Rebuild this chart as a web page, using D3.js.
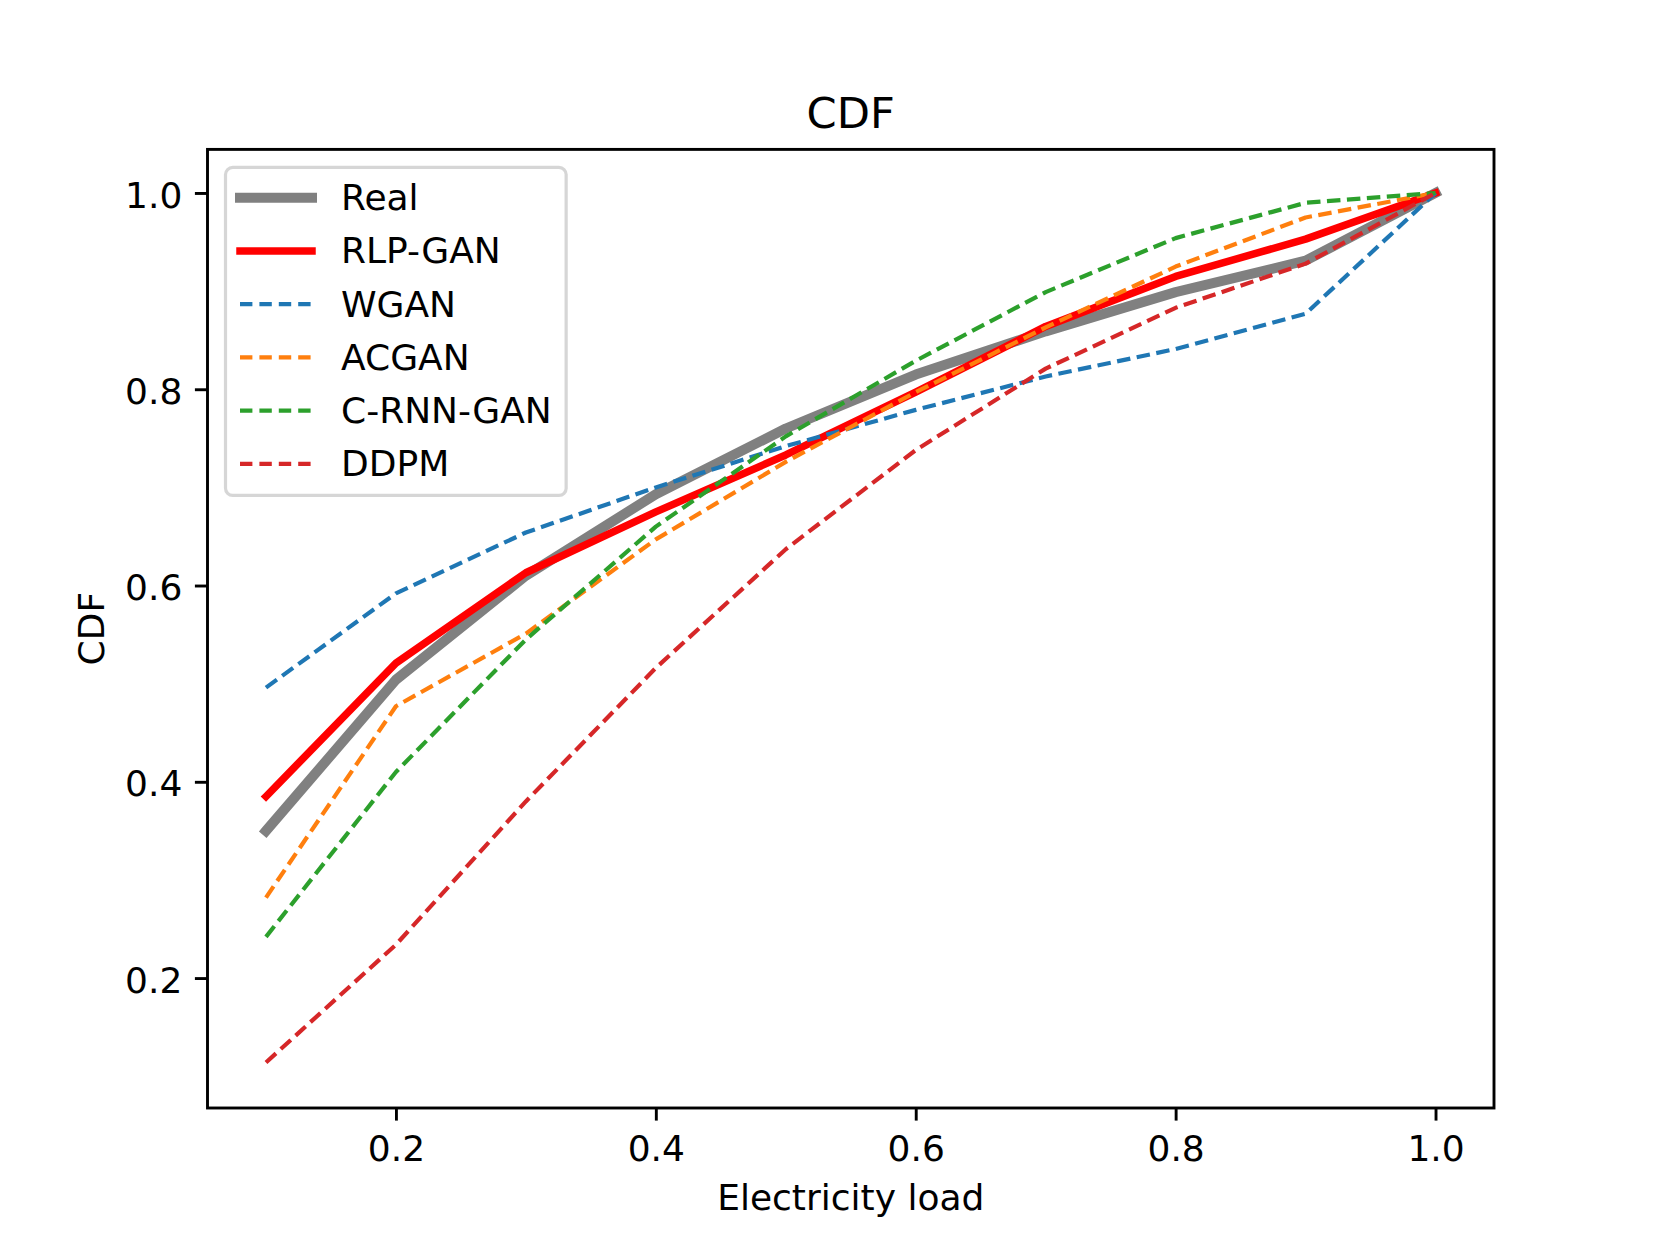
<!DOCTYPE html>
<html>
	<head>
		<title>CDF</title>
		<style>
			body {
				margin: 0;
				background: white;
			}
			svg text {
				font-family: "DejaVu Sans", sans-serif;
				fill: black;
			}
			.axis path {
				display: none;
			}
			.axis line {
				stroke: black;
				stroke-width: 2.9;
			}
			.axis text {
				font-size: 36px;
			}
		</style>
		<script src="https://d3js.org/d3.v7.min.js"></script>
	</head>

	<body>
		<svg id=chart width=1660 height=1245></svg>
	</body>

	<script>
		// values
		const loads = [0.1, 0.2, 0.3, 0.4, 0.5, 0.6, 0.7, 0.8, 0.9, 1.0];
		const real = [0.350, 0.504, 0.610, 0.693, 0.760, 0.815, 0.859, 0.899, 0.931, 1.0];
		const rlpGan = [0.385, 0.521, 0.613, 0.675, 0.733, 0.797, 0.864, 0.915, 0.953, 1.0];
		const wgan = [0.496, 0.592, 0.654, 0.700, 0.742, 0.779, 0.813, 0.841, 0.877, 1.0];
		const acgan = [0.282, 0.477, 0.551, 0.647, 0.726, 0.797, 0.863, 0.925, 0.975, 1.0];
		const crnnGan = [0.242, 0.410, 0.545, 0.660, 0.752, 0.829, 0.899, 0.954, 0.990, 1.0];
		const ddpm = [0.114, 0.234, 0.380, 0.516, 0.637, 0.738, 0.821, 0.883, 0.928, 1.0];

		const xTicks = [0.2, 0.4, 0.6, 0.8, 1.0];
		const yTicks = [0.2, 0.4, 0.6, 0.8, 1.0];

		const seriesNames = ['Real', 'RLP-GAN', 'WGAN', 'ACGAN', 'C-RNN-GAN', 'DDPM'];
		const seriesValues = [real, rlpGan, wgan, acgan, crnnGan, ddpm];
		const seriesColors = ['#808080', '#ff0000', '#1f77b4', '#ff7f0e', '#2ca02c', '#d62728'];
		const seriesWidths = [10, 7.5, 4.2, 4.2, 4.2, 4.2];
		const seriesDashed = [false, false, true, true, true, true];

		const box = {left: 207.5, right: 1494, top: 149.4, bottom: 1108};
		const dash = '13.5,6.5';

		const svg = d3.select('#chart');

		const x = d3.scaleLinear().domain([0.055, 1.045]).range([box.left, box.right]);
		const y = d3.scaleLinear().domain([0.0676, 1.0444]).range([box.bottom, box.top]);

		// lines
		const line = d3.line().x((d, i) => x(loads[i])).y(d => y(d));
		seriesValues.forEach((vals, k) => {
			svg.append('path')
				.attr('d', line(vals))
				.attr('fill', 'none')
				.attr('stroke', seriesColors[k])
				.attr('stroke-width', seriesWidths[k])
				.attr('stroke-linejoin', 'round')
				.attr('stroke-linecap', seriesDashed[k] ? 'butt' : 'square')
				.attr('stroke-dasharray', seriesDashed[k] ? dash : null);
		});

		// axes
		const xAxis = svg.append('g')
			.attr('class', 'axis')
			.attr('transform', `translate(0,${box.bottom})`)
			.call(d3.axisBottom(x).tickValues(xTicks).tickFormat(d3.format('.1f')).tickSize(12.6).tickPadding(12.6));
		xAxis.selectAll('text').attr('dy', '0.78em');

		const yAxis = svg.append('g')
			.attr('class', 'axis')
			.attr('transform', `translate(${box.left},0)`)
			.call(d3.axisLeft(y).tickValues(yTicks).tickFormat(d3.format('.1f')).tickSize(12.6).tickPadding(12.6));
		yAxis.selectAll('text').attr('dy', '0.39em');

		svg.append('rect')
			.attr('x', box.left)
			.attr('y', box.top)
			.attr('width', box.right - box.left)
			.attr('height', box.bottom - box.top)
			.attr('fill', 'none')
			.attr('stroke', 'black')
			.attr('stroke-width', 2.9);

		// labels
		svg.append('text')
			.attr('x', (box.left + box.right) / 2)
			.attr('y', 127.8)
			.attr('text-anchor', 'middle')
			.style('font-size', '43.2px')
			.text('CDF');

		svg.append('text')
			.attr('x', (box.left + box.right) / 2)
			.attr('y', 1210)
			.attr('text-anchor', 'middle')
			.style('font-size', '36px')
			.text('Electricity load');

		svg.append('text')
			.attr('transform', `translate(104,${(box.top + box.bottom) / 2}) rotate(-90)`)
			.attr('text-anchor', 'middle')
			.style('font-size', '36px')
			.text('CDF');

		// legend
		const lg = svg.append('g');
		const frame = lg.append('rect')
			.attr('x', 225.5)
			.attr('y', 167.4)
			.attr('rx', 7.2)
			.attr('ry', 7.2)
			.attr('height', 328)
			.attr('fill', 'rgba(255,255,255,0.8)')
			.attr('stroke', 'rgba(204,204,204,0.8)')
			.attr('stroke-width', 3.2);

		let maxW = 0;
		seriesNames.forEach((name, k) => {
			const cy = 197.8 + k * 53.2;
			lg.append('line')
				.attr('x1', 240).attr('x2', 312)
				.attr('y1', cy).attr('y2', cy)
				.attr('stroke', seriesColors[k])
				.attr('stroke-width', seriesWidths[k])
				.attr('stroke-linecap', seriesDashed[k] ? 'butt' : 'square')
				.attr('stroke-dasharray', seriesDashed[k] ? '12.4,7' : null);
			const t = lg.append('text')
				.attr('x', 341)
				.attr('y', cy + 12.3)
				.style('font-size', '36px')
				.text(name);
			maxW = Math.max(maxW, t.node().getComputedTextLength());
		});
		frame.attr('width', 341 + maxW + 14.4 - 225.5);
	</script>
</html>
